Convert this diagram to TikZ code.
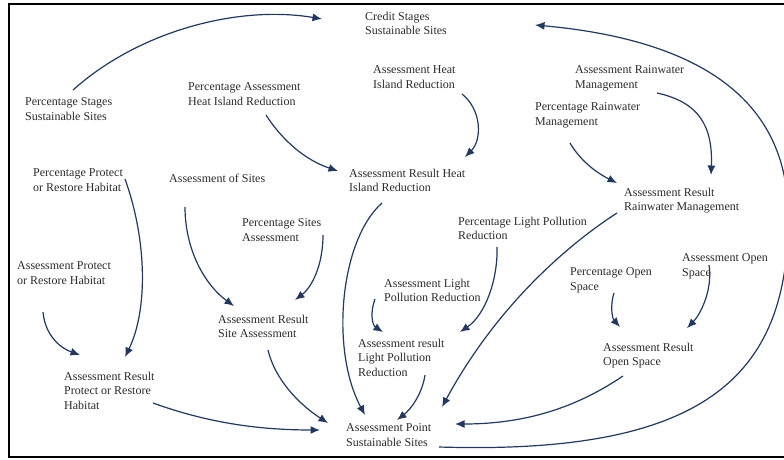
\documentclass[tikz,border=0pt]{standalone}
\usepackage{fontspec}
\setmainfont{Liberation Serif}
\usetikzlibrary{arrows.meta,calc}
\definecolor{arrowc}{HTML}{1F3864}
\definecolor{txtc}{HTML}{2B2B2B}
\begin{document}
\begin{tikzpicture}[x=1pt,y=-1pt,
  lbl/.style={anchor=north west, inner sep=0pt, align=left, text=txtc, font=\fontsize{12}{14.8}\selectfont},
  arr/.style={draw=arrowc, line width=1.2pt, -{Latex[length=9.5pt,width=8pt]}}]
\useasboundingbox (0,0) rectangle (784,460);
% labels
\node[lbl] (credit) at (365,11.5) {Credit Stages\\Sustainable Sites};
\node[lbl] (pss) at (25,97.5) {Percentage Stages\\Sustainable Sites};
\node[lbl] (pahi) at (188,82.5) {Percentage Assessment\\Heat Island Reduction};
\node[lbl] (ahi) at (373,65.5) {Assessment Heat\\Island Reduction};
\node[lbl] (arw) at (575,65.5) {Assessment Rainwater\\Management};
\node[lbl] (prw) at (535,102.5) {Percentage Rainwater\\Management};
\node[lbl] (ppr) at (33,168.5) {Percentage Protect\\or Restore Habitat};
\node[lbl] (aos) at (169,173.5) {Assessment of Sites};
\node[lbl] (arhi) at (349,168.5) {Assessment Result Heat\\Island Reduction};
\node[lbl] (psa) at (242,218.5) {Percentage Sites\\Assessment};
\node[lbl] (plp) at (458,216.5) {Percentage Light Pollution\\Reduction};
\node[lbl] (alp) at (384,278.5) {Assessment Light\\Pollution Reduction};
\node[lbl] (arrw) at (624,187.5) {Assessment Result\\Rainwater Management};
\node[lbl] (aop) at (682,253.5) {Assessment Open\\Space};
\node[lbl] (pop) at (570,267.5) {Percentage Open\\Space};
\node[lbl] (apr) at (17,261.5) {Assessment Protect\\or Restore Habitat};
\node[lbl] (arsa) at (218,314.5) {Assessment Result\\Site Assessment};
\node[lbl] (arlp) at (358,338.5) {Assessment result\\Light Pollution\\Reduction};
\node[lbl] (arop) at (603,342.5) {Assessment Result\\Open Space};
\node[lbl] (arpr) at (64,371.5) {Assessment Result\\Protect or Restore\\Habitat};
\node[lbl] (asp) at (346,423.5) {Assessment Point\\Sustainable Sites};
% connectors
\draw[arr] ($(pss.north west)+(48,-7.5)$) .. controls (140,30) and (240,5) .. ($(credit.north west)+(-43,7.5)$);
\draw[arr] ($(pahi.north west)+(78,32.5)$) .. controls (282,140) and (305,160) .. ($(arhi.north west)+(-11,2.5)$);
\draw[arr] ($(ahi.north west)+(89,28.5)$) .. controls (482,110) and (482,140) .. ($(arhi.north west)+(116,-11.5)$);
\draw[arr] ($(arw.north west)+(82,27.5)$) .. controls (698,102) and (713,125) .. ($(arrw.north west)+(87,-12.5)$);
\draw[arr] ($(prw.north west)+(35,40.5)$) .. controls (580,160) and (595,172) .. ($(arrw.north west)+(-7,-4.5)$);
\draw[arr] ($(ppr.north west)+(92,10.5)$) .. controls (147,240) and (148,310) .. ($(arpr.north west)+(61,-14.5)$);
\draw[arr] ($(apr.north west)+(26,50.5)$) .. controls (45,335) and (60,348) .. ($(arpr.north west)+(16,-16.5)$);
\draw[arr] ($(aos.north west)+(16,33.5)$) .. controls (185,250) and (205,285) .. ($(arsa.north west)+(16,-8.5)$);
\draw[arr] ($(psa.north west)+(81,16.5)$) .. controls (323,265) and (312,287) .. ($(arsa.north west)+(77,-14.5)$);
\draw[arr] ($(arhi.north west)+(33,34.5)$) .. controls (340,240) and (330,350) .. ($(asp.north west)+(19,-8.5)$);
\draw[arr] ($(alp.north west)+(-9,20.5)$) .. controls (370,312) and (372,325) .. ($(arlp.north west)+(25,-6.5)$);
\draw[arr] ($(plp.north west)+(39,30.5)$) .. controls (498,280) and (485,315) .. ($(arlp.north west)+(102,-6.5)$);
\draw[arr] ($(arrw.north west)+(-7,25.5)$) .. controls (575,240) and (500,300) .. ($(asp.north west)+(96,-16.5)$);
\draw[arr] ($(pop.north west)+(44,25.5)$) .. controls (610,305) and (612,318) .. ($(arop.north west)+(17,-15.5)$);
\draw[arr] ($(aop.north west)+(27,11.5)$) .. controls (713,290) and (700,315) .. ($(arop.north west)+(84,-14.5)$);
\draw[arr] ($(arlp.north west)+(67,36.5)$) .. controls (422,395) and (410,410) .. ($(asp.north west)+(51,-3.5)$);
\draw[arr] ($(arsa.north west)+(50,35.5)$) .. controls (275,380) and (300,405) .. ($(asp.north west)+(-18,-0.5)$);
\draw[arr] ($(arpr.north west)+(89,31.5)$) .. controls (200,420) and (250,430) .. ($(asp.north west)+(-26,6.5)$);
\draw[arr] ($(arop.north west)+(20,33.5)$) .. controls (580,405) and (530,424) .. ($(asp.north west)+(109,0.5)$);
\begin{scope}
\clip (0,0) rectangle (784,460);
\draw[line width=2.6pt] (9,4) rectangle (800,457);
\draw[arr] ($(asp.north west)+(93,23.5)$) .. controls (700,455) and (790,380) .. (788,215)
  .. controls (788,100) and (700,40) .. ($(credit.north west)+(170,13.5)$);
\end{scope}
\end{tikzpicture}
\end{document}
